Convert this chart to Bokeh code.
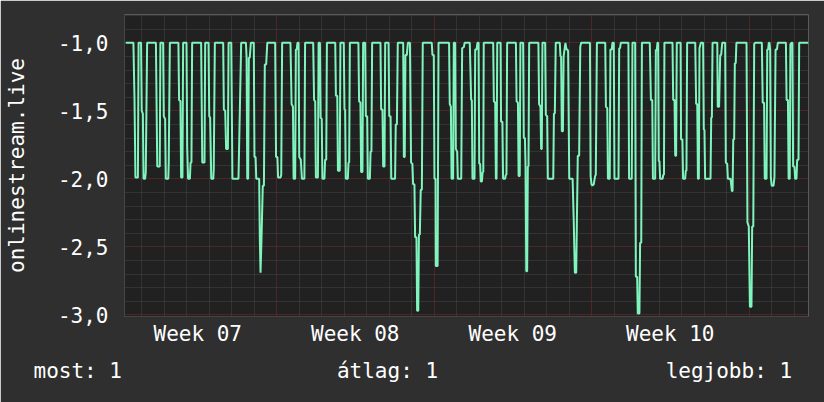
from bokeh.plotting import figure
from bokeh.models import FixedTicker, Range1d, ColumnDataSource, Title
from bokeh.embed import file_html
from bokeh.resources import INLINE

FONT = "DejaVu Sans Mono"

# time axis: days since Monday of ISO week 07
seg1_days = [0.30, 0.64, 0.69, 0.73, 0.84, 0.87, 0.98, 1.01, 1.06, 1.09, 1.16, 1.19, 1.25,
             1.64, 1.70, 1.81, 1.84, 1.96, 1.99, 2.05, 2.08, 2.19, 2.21, 2.26,
             2.64, 2.67, 2.73, 2.76, 2.82, 2.85, 3.00, 3.03, 3.07, 3.15, 3.18, 3.22, 3.25,
             3.65, 3.70, 3.80, 3.83, 3.98, 4.01, 4.05, 4.10, 4.19, 4.21, 4.26,
             4.63, 4.66, 4.72, 4.76, 4.84, 4.87, 4.99, 5.04, 5.31]
seg1_vals = [-1.00, -1.00, -1.43, -1.99, -1.99, -1.00, -1.00, -1.50, -1.52, -2.00, -2.00, -1.95, -1.00,
             -1.00, -1.91, -1.91, -1.00, -1.00, -1.54, -1.56, -2.00, -2.00, -1.88, -1.00,
             -1.00, -1.42, -1.43, -1.99, -1.99, -1.00, -1.00, -1.77, -2.00, -2.00, -1.88, -1.88, -1.00,
             -1.00, -1.88, -1.88, -1.00, -1.00, -1.54, -1.55, -2.00, -2.00, -1.93, -1.00,
             -1.00, -1.49, -1.50, -1.78, -1.78, -1.00, -1.00, -2.00, -2.00]

seg2_days = [5.37, 5.43, 5.64, 5.67, 5.70, 5.74, 5.77, 5.81, 5.86,
             5.99, 6.02, 6.07, 6.10, 6.23, 6.26, 6.29, 6.33, 6.39, 6.44, 6.48, 6.54, 6.59,
             6.94, 6.98, 7.04, 7.07, 7.18, 7.21, 7.25, 7.62, 7.67, 7.73, 7.76, 7.83, 7.86, 7.90, 7.93,
             7.98, 8.01, 8.08, 8.13, 8.24, 8.27, 8.63, 8.67, 8.72, 8.75, 8.84, 8.87,
             8.93, 8.96, 9.01, 9.04, 9.13, 9.16, 9.21, 9.24, 9.61, 9.64, 9.70, 9.73, 9.81, 9.84,
             9.99, 10.02, 10.05, 10.08, 10.17, 10.20, 10.23, 10.26]
seg2_vals = [-1.50, -1.00, -1.00, -1.11, -2.00, -2.00, -1.11, -1.11, -1.00,
             -1.00, -1.84, -1.84, -2.00, -2.00, -2.46, -2.69, -2.46, -2.05, -2.05, -1.16, -1.16, -1.00,
             -1.00, -1.84, -1.84, -1.99, -1.99, -1.97, -1.00, -1.00, -1.45, -1.47, -2.00, -2.00, -1.05, -1.05, -1.00,
             -1.00, -1.84, -1.86, -2.00, -2.00, -1.00, -1.00, -1.42, -1.43, -1.99, -1.99, -1.00,
             -1.00, -1.55, -1.56, -2.00, -2.00, -1.86, -1.86, -1.00, -1.00, -1.39, -1.39, -1.94, -1.94, -1.00,
             -1.00, -1.49, -1.49, -2.00, -2.00, -1.88, -1.88, -1.00]

seg3_days = [10.64, 10.67, 10.73, 10.76, 10.82, 10.85, 10.94, 10.97, 11.03, 11.06, 11.15, 11.18, 11.22, 11.25,
             11.62, 11.65, 11.71, 11.74, 11.80, 11.83, 11.98, 12.01, 12.07, 12.10, 12.27, 12.30, 12.35, 12.39,
             12.63, 12.66, 12.70, 12.73, 12.79, 12.84,
             12.93, 12.98, 13.04, 13.07, 13.13, 13.16, 13.22, 13.25, 13.30, 13.33, 13.37, 13.41, 13.46, 13.50,
             13.90, 13.93, 13.99, 14.02, 14.07, 14.08, 14.16, 14.20, 14.67, 14.70, 14.75, 14.78, 14.85, 14.88,
             14.94, 14.97, 15.03, 15.06, 15.21, 15.25, 15.33, 15.36, 15.59, 15.65]
seg3_vals = [-1.00, -1.43, -1.44, -1.95, -1.95, -1.00, -1.00, -1.54, -1.54, -2.00, -2.00, -1.80, -1.80, -1.00,
             -1.00, -1.49, -1.49, -1.91, -1.91, -1.00, -1.00, -1.54, -1.54, -2.00, -2.00, -1.60, -1.60, -1.00,
             -1.00, -1.84, -1.84, -1.09, -1.09, -1.00,
             -1.00, -1.88, -1.89, -2.04, -2.04, -2.43, -2.43, -2.97, -2.97, -2.41, -2.41, -2.08, -2.08, -1.00,
             -1.00, -1.09, -1.09, -2.00, -2.00, -2.64, -2.64, -1.00, -1.00, -1.45, -1.47, -2.00, -2.00, -1.00,
             -1.00, -1.78, -1.80, -2.00, -2.00, -1.04, -1.03, -1.00, -1.00, -1.42]

seg4_days = [15.68, 15.71, 15.80, 15.83, 15.89, 15.93, 15.98, 16.01, 16.05, 16.08, 16.13, 16.16, 16.19, 16.21,
             16.63, 16.66, 16.72, 16.75, 16.78, 16.81, 16.96, 16.98, 17.04, 17.07, 17.16, 17.19, 17.22, 17.25,
             17.64, 17.67, 17.73, 17.76, 17.81, 17.84, 17.96, 17.99, 18.04, 18.07, 18.10, 18.14, 18.17, 18.20, 18.23,
             18.64, 18.67, 18.73, 18.76, 18.79, 18.82, 18.94, 18.97, 19.03, 19.06, 19.30, 19.33, 19.37, 19.41,
             19.59, 19.62, 19.65, 19.68, 19.73, 19.76, 19.80, 19.84, 19.89, 19.93, 19.96, 20.01, 20.16, 20.21,
             20.26, 20.32, 20.35, 20.39, 20.45, 20.50, 20.54]
seg4_vals = [-1.42, -2.00, -2.00, -1.05, -1.05, -1.00, -1.00, -1.89, -1.89, -2.02, -2.02, -1.95, -1.95, -1.00,
             -1.00, -1.43, -1.44, -2.00, -2.00, -1.00, -1.00, -1.58, -1.58, -2.00, -2.00, -1.97, -1.97, -1.00,
             -1.00, -1.43, -1.44, -1.98, -1.98, -1.00, -1.00, -1.70, -1.70, -1.91, -2.68, -2.68, -1.91, -1.91, -1.00,
             -1.00, -1.45, -1.47, -1.78, -1.78, -1.00, -1.00, -1.53, -1.54, -2.00, -2.00, -1.52, -1.52, -1.00,
             -1.00, -1.10, -1.10, -1.65, -1.65, -1.10, -1.05, -1.00, -1.05, -1.05, -1.06, -2.00, -2.00, -2.31,
             -2.69, -2.69, -2.31, -1.83, -1.83, -1.03, -1.00]

seg5_days = [20.93, 20.96, 21.00, 21.04, 21.10, 21.16, 21.19, 21.24, 21.61, 21.64, 21.70, 21.73, 21.81, 21.84, 21.90, 21.93,
             21.99, 22.02, 22.20, 22.23, 22.27, 22.30, 22.64, 22.67, 22.79, 22.82,
             22.94, 22.97, 23.03, 23.06, 23.13, 23.16, 23.21, 23.24,
             23.59, 23.64, 23.70, 23.73, 23.83, 23.86, 23.90, 23.93, 23.96, 23.99, 24.02, 24.05, 24.16, 24.19, 24.22, 24.24,
             24.60, 24.63, 24.69, 24.72, 24.76, 24.79, 24.96, 24.98, 25.04, 25.07, 25.16, 25.19, 25.22, 25.25,
             25.61, 25.65, 25.70, 25.73, 25.77, 25.80, 25.86, 25.90]
seg5_vals = [-1.00, -1.98, -2.04, -2.05, -2.04, -1.98, -1.97, -1.00, -1.00, -1.47, -1.48, -2.00, -2.00, -1.05, -1.05, -1.00,
             -1.00, -2.00, -2.00, -1.04, -1.04, -1.00, -1.00, -2.00, -2.00, -1.00,
             -1.00, -2.72, -2.72, -2.99, -2.99, -2.47, -2.47, -1.00,
             -1.00, -1.42, -1.42, -2.00, -2.00, -1.05, -1.06, -1.00, -1.00, -1.87, -1.87, -2.00, -2.00, -1.97, -1.97, -1.00,
             -1.00, -1.42, -1.42, -1.83, -1.83, -1.00, -1.00, -1.71, -1.71, -2.00, -2.00, -1.94, -1.94, -1.00,
             -1.00, -1.45, -1.45, -2.00, -2.00, -1.04, -1.00, -1.00]

seg6_days = [25.96, 25.99, 26.02, 26.05, 26.29, 26.32, 26.35, 26.38, 26.59, 26.61, 26.67, 26.72, 26.76, 26.81,
             26.94, 26.97, 27.03, 27.06, 27.18, 27.24, 27.27, 27.30, 27.34, 27.37, 27.41, 27.44,
             27.89, 27.93, 27.99, 28.04, 28.11, 28.14, 28.19, 28.23, 28.27,
             28.57, 28.61, 28.67, 28.70, 28.78, 28.81, 28.85, 28.88, 28.91, 28.94, 28.97, 29.01, 29.09, 29.13, 29.18, 29.24, 29.28,
             29.64, 29.67, 29.73, 29.76, 29.81, 29.84, 29.90, 29.93, 29.96, 30.02, 30.05, 30.11, 30.14, 30.20, 30.23, 30.64]
seg6_vals = [-1.00, -1.64, -1.64, -2.00, -2.00, -1.55, -1.55, -1.00, -1.00, -1.47, -1.47, -1.09, -1.09, -1.00,
             -1.00, -1.88, -1.89, -2.00, -2.00, -2.09, -2.09, -1.71, -1.71, -1.15, -1.15, -1.00,
             -1.00, -2.32, -2.35, -2.94, -2.94, -2.35, -2.35, -1.01, -1.00,
             -1.00, -1.44, -1.44, -2.00, -2.00, -1.05, -1.05, -1.00, -1.00, -1.05, -1.99, -2.05, -2.05, -1.99, -1.05, -1.05, -1.00,
             -1.00, -1.42, -1.42, -2.00, -2.00, -1.01, -1.00, -1.00, -1.91, -1.91, -2.00, -2.00, -1.86, -1.86, -1.00, -1.00]

week_centers = [3.5, 10.5, 17.5, 24.5]
week_labels = ["Week 07", "Week 08", "Week 09", "Week 10"]
week_starts = [7, 14, 21, 28]
day_lines = [1, 2, 3, 4, 5, 6, 8, 9, 10, 11, 12, 13, 15, 16, 17, 18, 19, 20,
             22, 23, 24, 25, 26, 27, 29, 30]
ytick_vals = [-3.0, -2.5, -2.0, -1.5, -1.0]
ytick_labels = ["-3,0", "-2,5", "-2,0", "-1,5", "-1,0"]
ygrid_minor = [-2.9, -2.8, -2.7, -2.6, -2.4, -2.3, -2.2, -2.1, -1.9, -1.8, -1.7, -1.6,
               -1.4, -1.3, -1.2, -1.1, -0.9, -0.8]
stats_labels = ["most: 1", "átlag: 1", "legjobb: 1"]

days, vals = [], []
for d, v in [(seg1_days, seg1_vals), (seg2_days, seg2_vals), (seg3_days, seg3_vals),
             (seg4_days, seg4_vals), (seg5_days, seg5_vals), (seg6_days, seg6_vals)]:
    n = min(len(d), len(v))
    days += d[:n]
    vals += v[:n]

BG = "#2f2f2f"
FRAME = "#212121"
TXT = "#ffffff"
X0, X1 = 0.244, 30.644
Y0, Y1 = -3.012, -0.792

p = figure(width=824, height=402, output_backend="svg", toolbar_location=None,
           x_range=Range1d(X0, X1), y_range=Range1d(Y0, Y1),
           min_border_left=124, min_border_right=16, min_border_top=14, min_border_bottom=86,
           border_fill_color=BG, background_fill_color=FRAME, outline_line_color=None)

# grids
p.xgrid.ticker = FixedTicker(ticks=week_starts, minor_ticks=day_lines)
p.ygrid.ticker = FixedTicker(ticks=ytick_vals, minor_ticks=ygrid_minor)
for g in (p.xgrid, p.ygrid):
    g.grid_line_color = "#7a2e2e"
    g.grid_line_dash = "1 1"
    g.grid_line_width = 1
    g.minor_grid_line_color = "#474747"
    g.minor_grid_line_dash = "1 1"
    g.minor_grid_line_width = 1

# axes
p.xaxis.ticker = FixedTicker(ticks=week_centers)
p.xaxis.major_label_overrides = dict(zip(week_centers, week_labels))
p.yaxis.ticker = FixedTicker(ticks=ytick_vals)
p.yaxis.major_label_overrides = dict(zip(ytick_vals, ytick_labels))
for ax in (p.xaxis[0], p.yaxis[0]):
    ax.major_tick_line_color = None
    ax.minor_tick_line_color = None
    ax.major_tick_out = 0
    ax.major_tick_in = 0
    ax.minor_tick_out = 0
    ax.axis_line_color = "#454545"
    ax.major_label_text_font = FONT
    ax.major_label_text_font_size = "21px"
    ax.major_label_text_color = TXT
p.xaxis.major_label_standoff = 5
p.yaxis.major_label_standoff = 16
p.yaxis.axis_label = "onlinestream.live"
p.yaxis.axis_label_text_font = FONT
p.yaxis.axis_label_text_font_size = "21px"
p.yaxis.axis_label_text_font_style = "normal"
p.yaxis.axis_label_text_color = TXT
p.yaxis.axis_label_standoff = 26

src = ColumnDataSource(dict(day=days, val=vals))
p.line("day", "val", source=src, line_color="#7ff5bd", line_width=2)

# stats line under the chart (monospace font, columns padded with no-break spaces)
NB = "\u00a0"
stats_text = stats_labels[0] + NB * 17 + stats_labels[1] + NB * 18 + stats_labels[2]
p.add_layout(Title(text=stats_text, align="left", offset=-91, standoff=17,
                   text_font=FONT, text_font_size="21px", text_font_style="normal",
                   text_color=TXT), "below")

open("out.html", "w").write(file_html(p, INLINE, title="onlinestream.live"))
